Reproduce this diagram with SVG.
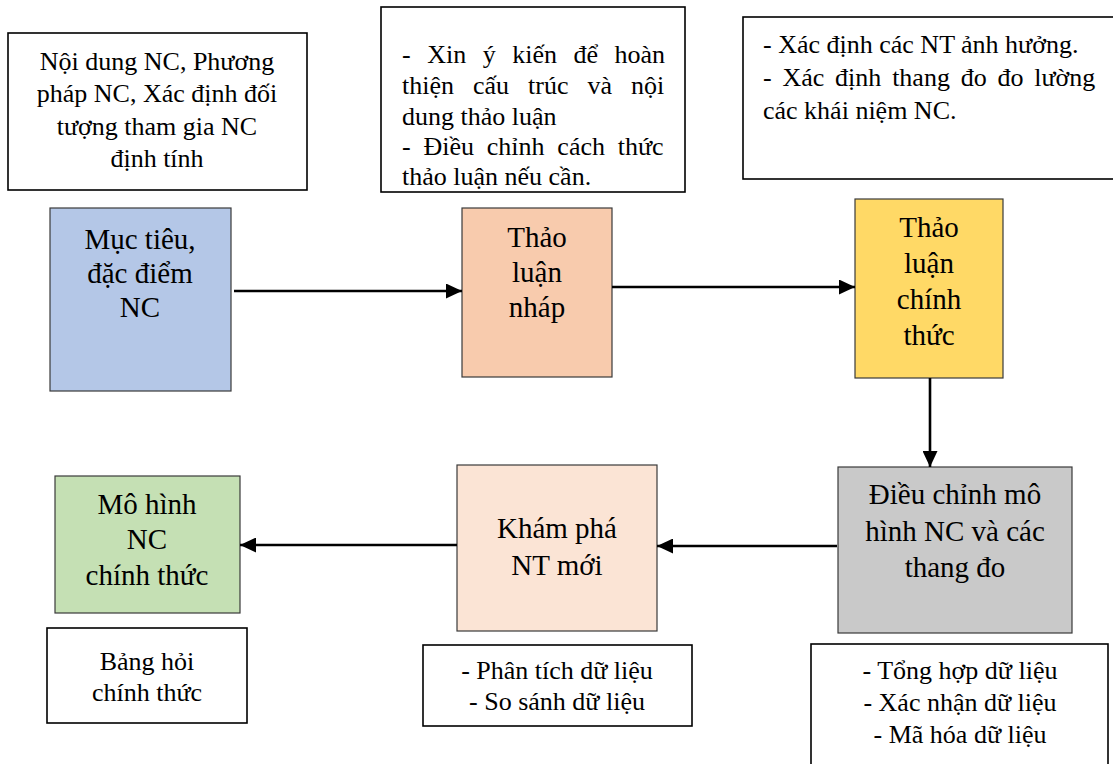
<svg xmlns="http://www.w3.org/2000/svg" width="1113" height="764" viewBox="0 0 1113 764">
  <style>
    .node { stroke: #3a3a3a; stroke-width: 1.2; }
    .note { fill: #ffffff; stroke: #000000; stroke-width: 1.6; }
    .nt { font-family: "Liberation Serif", "Times New Roman", serif; font-size: 29px; fill: #000; text-anchor: middle; }
    .tt { font-family: "Liberation Serif", "Times New Roman", serif; font-size: 26px; fill: #000; }
    .c { text-anchor: middle; }
    .edge { stroke: #000; stroke-width: 2.6; fill: none; marker-end: url(#arrow); }
  </style>
  <defs>
    <marker id="arrow" viewBox="0 0 16 15" refX="16" refY="7.5" markerWidth="16" markerHeight="15" markerUnits="userSpaceOnUse" orient="auto">
      <path d="M0,0 L16,7.5 L0,15 Z" fill="#000"/>
    </marker>
  </defs>
  <rect width="1113" height="764" fill="#ffffff"/>

  <!-- notes above the first row -->
  <g id="note-noi-dung">
    <rect class="note" x="8" y="33" width="299" height="157"/>
    <text class="tt c" x="157" y="70">Nội dung NC, Phương</text>
    <text class="tt c" x="157" y="102">pháp NC, Xác định đối</text>
    <text class="tt c" x="157" y="135">tượng tham gia NC</text>
    <text class="tt c" x="157" y="167">định tính</text>
  </g>
  <g id="note-xin-y-kien">
    <rect class="note" x="381" y="7" width="304" height="185"/>
    <text class="tt" x="402" y="63" word-spacing="10">- Xin ý kiến để hoàn</text>
    <text class="tt" x="402" y="94" word-spacing="12.5">thiện cấu trúc và nội</text>
    <text class="tt" x="402" y="125">dung thảo luận</text>
    <text class="tt" x="402" y="155" word-spacing="6.3">- Điều chỉnh cách thức</text>
    <text class="tt" x="402" y="185">thảo luận nếu cần.</text>
  </g>
  <g id="note-xac-dinh">
    <rect class="note" x="743" y="17" width="380" height="162"/>
    <text class="tt" x="763" y="53">- Xác định các NT ảnh hưởng.</text>
    <text class="tt" x="763" y="86" word-spacing="4.3">- Xác định thang đo đo lường</text>
    <text class="tt" x="763" y="119">các khái niệm NC.</text>
  </g>

  <!-- first row of steps -->
  <g id="muc-tieu">
    <rect class="node" x="50" y="208" width="181" height="183" fill="#B4C7E7"/>
    <text class="nt" x="140" y="249">Mục tiêu,</text>
    <text class="nt" x="140" y="283">đặc điểm</text>
    <text class="nt" x="140" y="317">NC</text>
  </g>
  <g id="thao-luan-nhap">
    <rect class="node" x="462" y="208" width="150" height="169" fill="#F8CBAD"/>
    <text class="nt" x="537" y="247">Thảo</text>
    <text class="nt" x="537" y="282">luận</text>
    <text class="nt" x="537" y="317">nháp</text>
  </g>
  <g id="thao-luan-chinh-thuc">
    <rect class="node" x="855" y="199" width="148" height="179" fill="#FFD966"/>
    <text class="nt" x="929" y="237">Thảo</text>
    <text class="nt" x="929" y="273">luận</text>
    <text class="nt" x="929" y="309">chính</text>
    <text class="nt" x="929" y="345">thức</text>
  </g>

  <!-- second row of steps -->
  <g id="dieu-chinh">
    <rect class="node" x="838" y="467" width="234" height="166" fill="#C9C9C9"/>
    <text class="nt" x="955" y="504">Điều chỉnh mô</text>
    <text class="nt" x="955" y="541">hình NC và các</text>
    <text class="nt" x="955" y="577">thang đo</text>
  </g>
  <g id="kham-pha">
    <rect class="node" x="457" y="465" width="200" height="166" fill="#FBE4D5"/>
    <text class="nt" x="557" y="538">Khám phá</text>
    <text class="nt" x="557" y="575">NT mới</text>
  </g>
  <g id="mo-hinh">
    <rect class="node" x="55" y="476" width="185" height="137" fill="#C5E0B4"/>
    <text class="nt" x="147" y="514">Mô hình</text>
    <text class="nt" x="147" y="549">NC</text>
    <text class="nt" x="147" y="585">chính thức</text>
  </g>

  <!-- notes below the second row -->
  <g id="note-tong-hop">
    <rect class="note" x="811" y="644" width="297" height="130"/>
    <text class="tt c" x="960" y="679">- Tổng hợp dữ liệu</text>
    <text class="tt c" x="960" y="711">- Xác nhận dữ liệu</text>
    <text class="tt c" x="960" y="743">- Mã hóa dữ liệu</text>
  </g>
  <g id="note-phan-tich">
    <rect class="note" x="423" y="645" width="269" height="81"/>
    <text class="tt c" x="557" y="679">- Phân tích dữ liệu</text>
    <text class="tt c" x="557" y="710">- So sánh dữ liệu</text>
  </g>
  <g id="note-bang-hoi">
    <rect class="note" x="47" y="628" width="200" height="95"/>
    <text class="tt c" x="147" y="670">Bảng hỏi</text>
    <text class="tt c" x="147" y="701">chính thức</text>
  </g>

  <!-- connectors -->
  <g id="connectors">
    <line class="edge" x1="234" y1="291" x2="462" y2="291"/>
    <line class="edge" x1="612" y1="287" x2="855" y2="287"/>
    <line class="edge" x1="930" y1="378" x2="930" y2="467"/>
    <line class="edge" x1="837" y1="546" x2="657" y2="546"/>
    <line class="edge" x1="457" y1="545" x2="240" y2="545"/>
  </g>
</svg>
